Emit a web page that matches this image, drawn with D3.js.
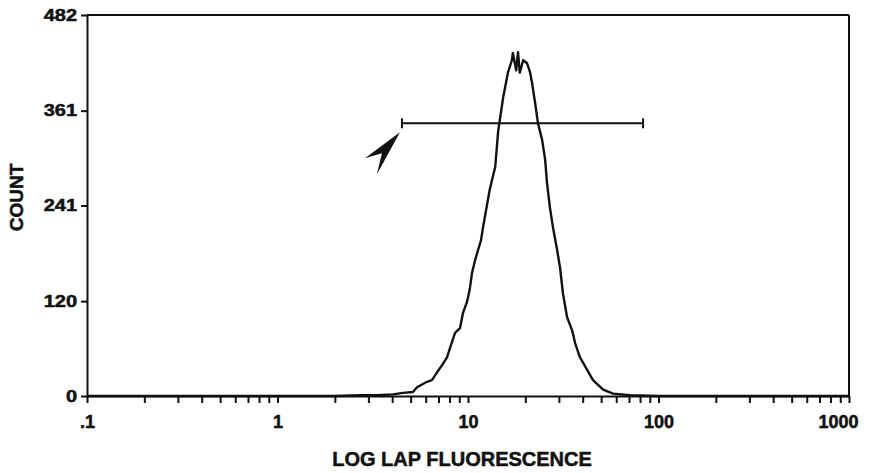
<!DOCTYPE html>
<html>
<head>
<meta charset="utf-8">
<script src="https://cdn.jsdelivr.net/npm/d3@7"></script>
<style>
    body { margin: 0; background: #fff; }
    .axis path, .axis line { stroke: #111; stroke-width: 2; }
    .axis text { font-family: "Liberation Sans", Arial, sans-serif; font-weight: bold; fill: #111; stroke: #111; stroke-width: 0.5px; }
    .title { font-family: "Liberation Sans", Arial, sans-serif; font-weight: bold; fill: #111; stroke: #111; stroke-width: 0.5px; }
</style>
</head>
<body>
<div id="chart"></div>
<script>

// histogram: fluorescence (log axis) and count
var fluorescence = [0.1, 1.0, 2.0, 2.71, 3.3, 4.04, 4.56, 5.14, 5.40, 6.09, 6.47, 6.88, 7.31, 7.76,
    8.05, 8.55, 9.08, 9.41, 9.88, 10.2, 10.5, 10.9, 11.3, 11.7, 12.0, 13.0, 13.9, 14.4, 15.3,
    16.2, 17.0, 17.2, 17.9, 18.3, 18.7, 19.5, 20.4, 21.2, 21.7, 22.5, 23.3, 24.5, 25.4, 26.0,
    26.9, 27.9, 29.3, 30.4, 31.5, 33.1, 35.2, 36.5, 38.7, 42.2, 45.3, 51.2, 57.7, 70.8, 100, 1000];
var count = [0, 0, 0, 1, 1, 2, 4, 5, 11, 18, 20, 30, 39, 49,
    61, 80, 86, 105, 119, 134, 156, 172, 185, 197, 214, 261, 290, 335, 378,
    409, 425, 434, 412, 435, 409, 425, 421, 409, 396, 371, 345, 324, 299, 269,
    239, 214, 186, 163, 130, 100, 83, 67, 49, 33, 20, 8, 3, 1, 0, 0];

var xMajor = [0.1, 1, 10, 100, 1000];
var xMajorLabels = [".1", "1", "10", "100", "1000"];
var xMinor = [0.2, 0.3, 0.4, 0.5, 0.6, 0.7, 0.8, 0.9,
    2, 3, 4, 5, 6, 7, 8, 9,
    20, 30, 40, 50, 60, 70, 80, 90,
    200, 300, 400, 500, 600, 700, 800, 900];
var yTicks = [0, 120, 241, 361, 482];

// marker bar (gate) and its arrow
var gateFrom = 4.5, gateTo = 83, gateCount = 345;

var margin = {top: 15, right: 20, bottom: 77, left: 87};
var width = 869 - margin.left - margin.right,
    height = 473 - margin.top - margin.bottom;

var xScale = d3.scaleLog()
    .domain([0.1, 1000])
    .range([0, width]);

var yScale = d3.scaleLinear()
    .domain([0, 482])
    .range([height, 0]);

var svg = d3.select("#chart")
    .append("svg")
    .attr("width", width + margin.left + margin.right)
    .attr("height", height + margin.top + margin.bottom)
    .append("g")
    .attr("transform", "translate(" + margin.left + "," + margin.top + ")");

// frame top and right
svg.append("line")
    .attr("x1", 0).attr("x2", width)
    .attr("y1", 0).attr("y2", 0)
    .style("stroke", "#111").style("stroke-width", 2);
svg.append("line")
    .attr("x1", width).attr("x2", width)
    .attr("y1", 0).attr("y2", height)
    .style("stroke", "#111").style("stroke-width", 2);

var xAxis = d3.axisBottom()
    .scale(xScale)
    .tickValues(xMajor.concat(xMinor))
    .tickSize(7)
    .tickSizeOuter(0)
    .tickFormat(function(d) {
        var i = xMajor.indexOf(d);
        return i < 0 ? "" : xMajorLabels[i];
    });

svg.append("g")
    .attr("class", "axis x-axis")
    .attr("transform", "translate(0," + height + ")")
    .call(xAxis)
    .selectAll("text")
        .attr("y", 19)
        .style("font-size", "18px")
        .filter(function(d) { return d === 1000; })
            .attr("x", 9)
            .style("text-anchor", "end");

var yAxis = d3.axisLeft()
    .scale(yScale)
    .tickValues(yTicks)
    .tickSize(6)
    .tickSizeOuter(0);

svg.append("g")
    .attr("class", "axis y-axis")
    .call(yAxis)
    .selectAll("text")
        .attr("x", -8)
        .attr("transform", "scale(1.25,1)")
        .style("font-size", "16px");

var line = d3.line()
    .x(function(d, i) { return xScale(fluorescence[i]); })
    .y(function(d) { return yScale(d); });

svg.append("path")
    .datum(count)
    .attr("d", line)
    .style("fill", "none")
    .style("stroke", "#111")
    .style("stroke-width", 2.4)
    .style("stroke-linejoin", "round");

// gate bar with end caps
var gy = yScale(gateCount);
svg.append("line")
    .attr("x1", xScale(gateFrom)).attr("x2", xScale(gateTo))
    .attr("y1", gy).attr("y2", gy)
    .style("stroke", "#111").style("stroke-width", 2);
[gateFrom, gateTo].forEach(function(v) {
    svg.append("line")
        .attr("x1", xScale(v)).attr("x2", xScale(v))
        .attr("y1", gy - 5).attr("y2", gy + 5)
        .style("stroke", "#111").style("stroke-width", 2);
});

// arrow pointing at the gate start
var tipX = xScale(gateFrom) - 2, tipY = gy + 9;
svg.append("path")
    .attr("d", "M" + tipX + "," + tipY +
        " l-35,26 l17,-5 l-5,21 z")
    .style("fill", "#111");

svg.append("text")
    .text("LOG LAP FLUORESCENCE")
    .attr("class", "title")
    .attr("x", width / 2 - 6)
    .attr("y", height + 70)
    .attr("text-anchor", "middle")
    .style("font-size", "20px");

svg.append("text")
    .text("COUNT")
    .attr("class", "title")
    .attr("transform", "translate(" + (23 - margin.left) + "," + (height / 2 - 8) + ") rotate(-90)")
    .attr("text-anchor", "middle")
    .style("font-size", "19px");

</script>
</body>
</html>
